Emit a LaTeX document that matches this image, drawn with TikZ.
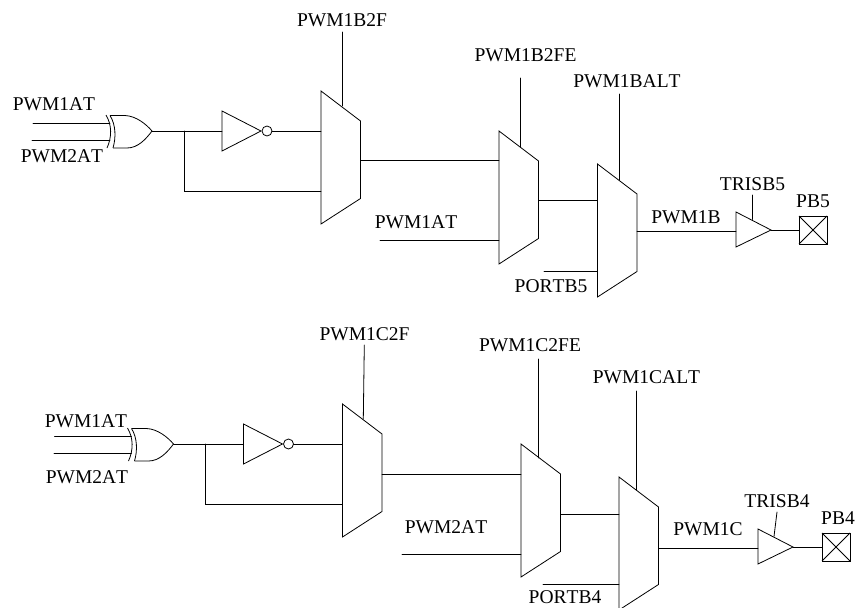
\documentclass[tikz,border=0pt]{standalone}
\usepackage{fontspec}
\setmainfont{Liberation Serif}[Kerning=Off]
\tikzset{
  wire/.style={draw=black,line width=0.8pt,line cap=round},
  gate/.style={draw=black,line width=0.8pt,line join=miter,fill=white},
  lbl/.style={inner sep=0pt,font=\fontsize{19.5}{22}\selectfont}
}
% \muxgate{name}{left x}{top y}
\newcommand{\muxgate}[3]{%
  \coordinate (#1-tl) at (#2,#3);
  \coordinate (#1-tr) at (#2+39.5,#3+30);
  \coordinate (#1-br) at (#2+39.5,#3+107.5);
  \coordinate (#1-bl) at (#2,#3+133);
  \draw[gate] (#1-tl) -- (#1-tr) -- (#1-br) -- (#1-bl) -- cycle;
}
% \xorgate{name}{dx}{dy}
\newcommand{\xorgate}[3]{%
  \begin{scope}[shift={(#2,#3)}]
    \coordinate (#1-a) at (110,123);
    \coordinate (#1-b) at (110,140);
    \coordinate (#1-y) at (152,131);
    \draw[gate,fill=none,line join=round] (110,115.5) -- (125,115.5) .. controls (136,116) and (146,124) .. (152,131) .. controls (146,139) and (138,148) .. (127,148) -- (113,148);
    \draw[gate,fill=none] (106,115) .. controls (112,125) and (112,137) .. (107,148);
    \draw[gate,fill=none] (110,115.5) .. controls (116,125) and (116,138) .. (113,148);
  \end{scope}
}
% \notgate{name}{dx}{dy}
\newcommand{\notgate}[3]{%
  \begin{scope}[shift={(#2,#3)}]
    \coordinate (#1-a) at (222,131);
    \coordinate (#1-y) at (272,131);
    \draw[gate] (222,111) -- (261,131) -- (222,151) -- cycle;
    \draw[gate] (267,131) circle (5);
  \end{scope}
}
% \bufgate{name}{dx}{dy}
\newcommand{\bufgate}[3]{%
  \begin{scope}[shift={(#2,#3)}]
    \coordinate (#1-a) at (736,231);
    \coordinate (#1-y) at (771,230);
    \coordinate (#1-e) at (752,219.5);
    \draw[gate] (736,212) -- (771,230) -- (736,247) -- cycle;
  \end{scope}
}
% \padgate{name}{dx}{dy}
\newcommand{\padgate}[3]{%
  \begin{scope}[shift={(#2,#3)}]
    \coordinate (#1-a) at (799,230);
    \draw[gate] (799,216) rectangle (827,244);
    \draw[gate] (799,216) -- (827,244) (827,216) -- (799,244);
  \end{scope}
}
\begin{document}
\begin{tikzpicture}[x=1pt,y=-1pt]
\useasboundingbox (0,0) rectangle (855,608);
% ---- top channel
\muxgate{ma}{321}{91}
\muxgate{mb}{499}{131}
\muxgate{mc}{597.5}{164}
\xorgate{xa}{0}{0}
\notgate{na}{0}{0}
\bufgate{ba}{0}{0}
\padgate{pa}{0}{0}
\coordinate (ia1) at (33,123);
\coordinate (ia2) at (32,140);
\coordinate (ja) at (184,131);
\coordinate (ma1) at (321,131);
\coordinate (ma2) at (321,191);
\coordinate (mao) at (360.5,160.5);
\coordinate (mb1) at (499,160.5);
\coordinate (mb2) at (499,240.5);
\coordinate (mbi) at (380,240.5);
\coordinate (mbo) at (538.5,200.5);
\coordinate (mc1) at (597.5,200.5);
\coordinate (mc2) at (597.5,271);
\coordinate (mci) at (544,271);
\coordinate (mco) at (637,231);
\coordinate (sa) at (342,32); \coordinate (sae) at (342,106);
\coordinate (sb) at (520,78); \coordinate (sbe) at (520,147);
\coordinate (sc) at (619,94); \coordinate (sce) at (619,180);
\coordinate (ta) at (752,195);
\draw[wire] (ia1) -- (xa-a);
\draw[wire] (ia2) -- (xa-b);
\draw[wire] (xa-y) -- (na-a);
\draw[wire] (na-y) -- (ma1);
\draw[wire] (ja) -- (184,191) -- (ma2);
\draw[wire] (mao) -- (mb1);
\draw[wire] (mbi) -- (mb2);
\draw[wire] (mbo) -- (mc1);
\draw[wire] (mci) -- (mc2);
\draw[wire] (mco) -- (ba-a);
\draw[wire] (ba-y) -- (pa-a);
\draw[wire] (sa) -- (sae);
\draw[wire] (sb) -- (sbe);
\draw[wire] (sc) -- (sce);
\draw[wire] (ta) -- (ba-e);
\node[lbl] (l1) at (54,104) {PWM1AT};
\node[lbl] (l2) at (62,156) {PWM2AT};
\node[lbl] (l3) at (342,20) {PWM1B2F};
\node[lbl] (l4) at (525.5,55) {PWM1B2FE};
\node[lbl] (l5) at (627,81) {PWM1BALT};
\node[lbl] (l6) at (416,222) {PWM1AT};
\node[lbl] (l7) at (551,286) {PORTB5};
\node[lbl] (l8) at (686,217) {PWM1B};
\node[lbl] (l9) at (752.5,184) {TRISB5};
\node[lbl] (l10) at (813,201) {PB5};
% ---- bottom channel
\muxgate{md}{342.5}{404}
\muxgate{me}{521}{444}
\muxgate{mf}{619}{477}
\xorgate{xb}{21.5}{313}
\notgate{nb}{21.5}{313}
\bufgate{bb}{22}{317}
\padgate{pb}{23}{317}
\coordinate (ib1) at (54.5,436);
\coordinate (ib2) at (54,453);
\coordinate (jb) at (205.5,444);
\coordinate (md1) at (342.5,444);
\coordinate (md2) at (342.5,504);
\coordinate (mdo) at (382,474);
\coordinate (me1) at (521,474);
\coordinate (me2) at (521,554);
\coordinate (mei) at (402,554);
\coordinate (meo) at (560.5,514);
\coordinate (mf1) at (619,514);
\coordinate (mf2) at (619,584);
\coordinate (mfi) at (543,584);
\coordinate (mfo) at (658.5,548);
\coordinate (sd) at (364.3,345); \coordinate (sde) at (363.3,419);
\coordinate (se) at (538.5,359); \coordinate (see) at (538.5,458);
\coordinate (sf) at (636.5,391); \coordinate (sfe) at (636.5,490);
\coordinate (tb) at (777,512);
\draw[wire] (ib1) -- (xb-a);
\draw[wire] (ib2) -- (xb-b);
\draw[wire] (xb-y) -- (nb-a);
\draw[wire] (nb-y) -- (md1);
\draw[wire] (jb) -- (205.5,504) -- (md2);
\draw[wire] (mdo) -- (me1);
\draw[wire] (mei) -- (me2);
\draw[wire] (meo) -- (mf1);
\draw[wire] (mfi) -- (mf2);
\draw[wire] (mfo) -- (bb-a);
\draw[wire] (bb-y) -- (pb-a);
\draw[wire] (sd) -- (sde);
\draw[wire] (se) -- (see);
\draw[wire] (sf) -- (sfe);
\draw[wire] (tb) -- (bb-e);
\node[lbl] (l11) at (86,421) {PWM1AT};
\node[lbl] (l12) at (87,477) {PWM2AT};
\node[lbl] (l13) at (364.5,334) {PWM1C2F};
\node[lbl] (l14) at (530,345) {PWM1C2FE};
\node[lbl] (l15) at (646.5,377) {PWM1CALT};
\node[lbl] (l16) at (446,527) {PWM2AT};
\node[lbl] (l17) at (565,597) {PORTB4};
\node[lbl] (l18) at (708,529) {PWM1C};
\node[lbl] (l19) at (777,501) {TRISB4};
\node[lbl] (l20) at (838,518) {PB4};
\end{tikzpicture}
\end{document}
